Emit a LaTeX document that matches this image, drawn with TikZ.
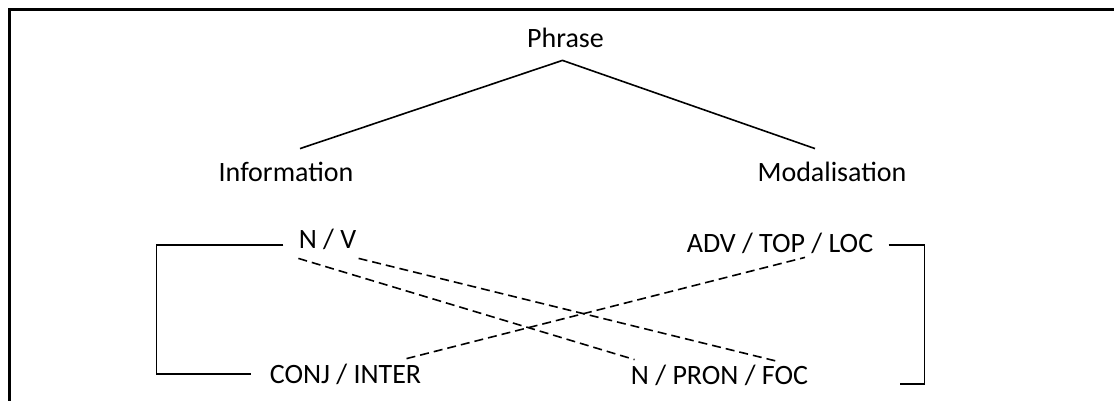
\documentclass[tikz,border=0pt]{standalone}
\usepackage{fontspec}
\setmainfont{Carlito}
\usepackage{tikz}

\tikzset{
	lbl/.style={anchor=base,inner sep=1pt,text height=10pt,text depth=3pt,font=\fontsize{14pt}{17pt}\selectfont},
	tree/.style={line width=0.8pt},
	cross/.style={line width=0.8pt,dash pattern=on 4.5pt off 2.5pt}
}

\begin{document}
\begin{tikzpicture}[x=0.5pt,y=-0.5pt]
			\useasboundingbox (0,0) rectangle (1114,401);
			%frame
			\draw [line width=1.1pt] (9.5,401) -- (9.5,9.5) -- (1114,9.5);
			\node[lbl] (phrase) at (565.5,48) {Phrase};
			\node[lbl] (info) at (286,182) {Information};
			\node[lbl] (modal) at (832,182) {Modalisation};
			\node[lbl] (nv) at (327.5,248) {N / V};
			\node[lbl] (adv) at (780,252) {ADV / TOP / LOC};
			\node[lbl] (conj) at (345.5,383) {CONJ / INTER};
			\node[lbl] (npron) at (719.5,384) {N / PRON / FOC};
			%tree
			\draw[tree] ([xshift=7pt,yshift=5.5pt]info.north) -- ([xshift=-1.5pt,yshift=-2pt]phrase.south) -- ([xshift=-8.5pt,yshift=5.5pt]modal.north);
			%brackets
			\draw[tree] ([xshift=-6.5pt,yshift=-2pt]nv.west) -- ++(-127,0) |- ([xshift=-8pt,yshift=1pt]conj.west);
			\draw[tree] ([xshift=6.5pt]adv.east) -- ++(36,0) |- ([xshift=45pt,yshift=-3.5pt]npron.east);
			%dashed
			\draw[cross] ([xshift=1pt,yshift=-1pt]nv.south west) -- ([xshift=3pt,yshift=1pt]npron.north west);
			\draw[cross] ([yshift=-1pt]nv.south east) -- ([xshift=-16pt]npron.north east);
			\draw[cross] ([xshift=-8.5pt,yshift=1pt]conj.north east) -- ([xshift=12.5pt,yshift=1.5pt]adv.south);
\end{tikzpicture}
\end{document}
